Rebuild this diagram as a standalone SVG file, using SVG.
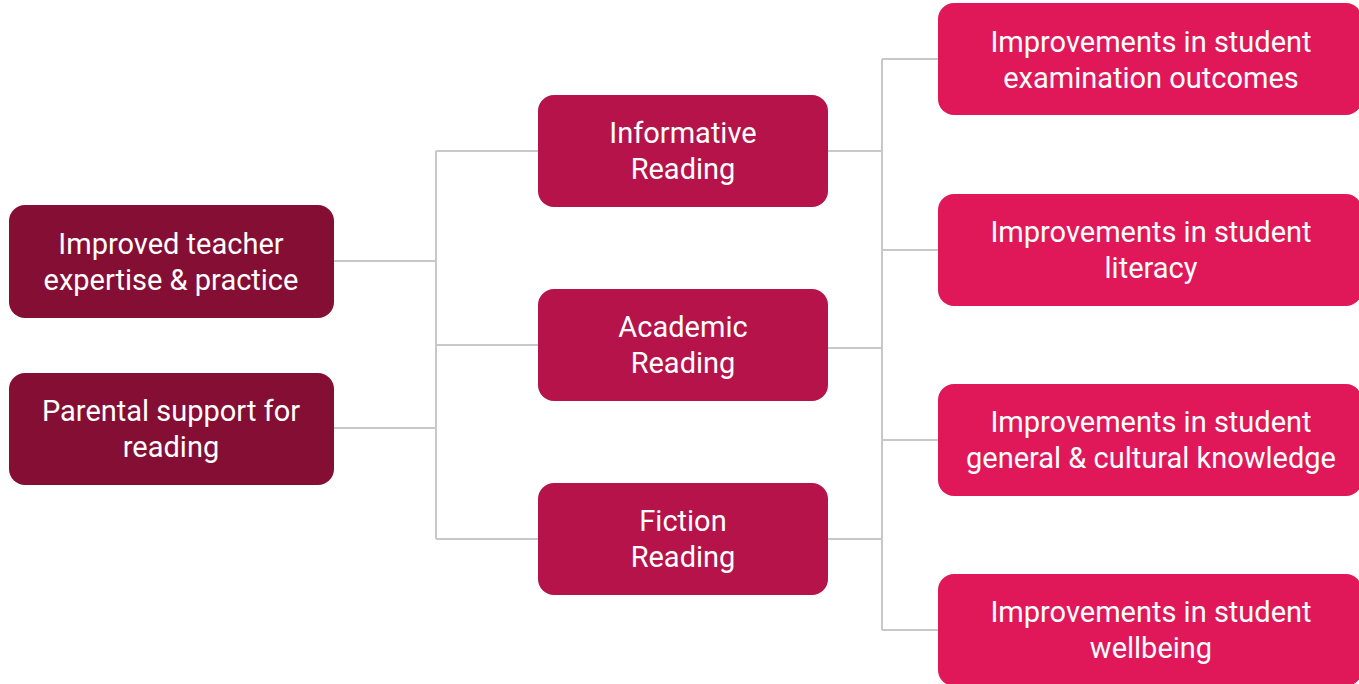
<svg xmlns="http://www.w3.org/2000/svg" width="1359" height="684" viewBox="0 0 1359 684">
<style>
.l{fill:#850E35}.m{fill:#B5134A}.r{fill:#E0185A}
text{font-family:Roboto,"Liberation Sans",sans-serif;font-size:29px;fill:#fff;text-anchor:middle}
.c{fill:none;stroke:#c8c8c8;stroke-width:2}
</style>
<rect width="1359" height="684" fill="#fff"/>
<g id="connectors" class="c">
<path d="M333 261H436M333 428H436M436 151V539M436 151H538M436 345H538M436 539H538"/>
<path d="M828 151H882M828 348H882M828 539H882M882 59V630M882 59H938M882 250H938M882 440H938M882 630H938"/>
</g>
<g id="n1"><rect class="l" x="9" y="205" width="325" height="113" rx="16"/><text x="171" y="254">Improved teacher</text><text x="171" y="290">expertise &amp; practice</text></g>
<g id="n2"><rect class="l" x="9" y="373" width="325" height="112" rx="16"/><text x="171" y="421">Parental support for</text><text x="171" y="457">reading</text></g>
<g id="m1"><rect class="m" x="538" y="95" width="290" height="112" rx="16"/><text x="683" y="143">Informative</text><text x="683" y="179">Reading</text></g>
<g id="m2"><rect class="m" x="538" y="289" width="290" height="112" rx="16"/><text x="683" y="337">Academic</text><text x="683" y="373">Reading</text></g>
<g id="m3"><rect class="m" x="538" y="483" width="290" height="112" rx="16"/><text x="683" y="531">Fiction</text><text x="683" y="567">Reading</text></g>
<g id="r1"><rect class="r" x="938" y="3" width="424" height="112" rx="16"/><text x="1151" y="52">Improvements in student</text><text x="1151" y="88">examination outcomes</text></g>
<g id="r2"><rect class="r" x="938" y="194" width="424" height="112" rx="16"/><text x="1151" y="242">Improvements in student</text><text x="1151" y="278">literacy</text></g>
<g id="r3"><rect class="r" x="938" y="384" width="424" height="112" rx="16"/><text x="1151" y="432">Improvements in student</text><text x="1151" y="468">general &amp; cultural knowledge</text></g>
<g id="r4"><rect class="r" x="938" y="574" width="424" height="112" rx="16"/><text x="1151" y="622">Improvements in student</text><text x="1151" y="658">wellbeing</text></g>
</svg>
